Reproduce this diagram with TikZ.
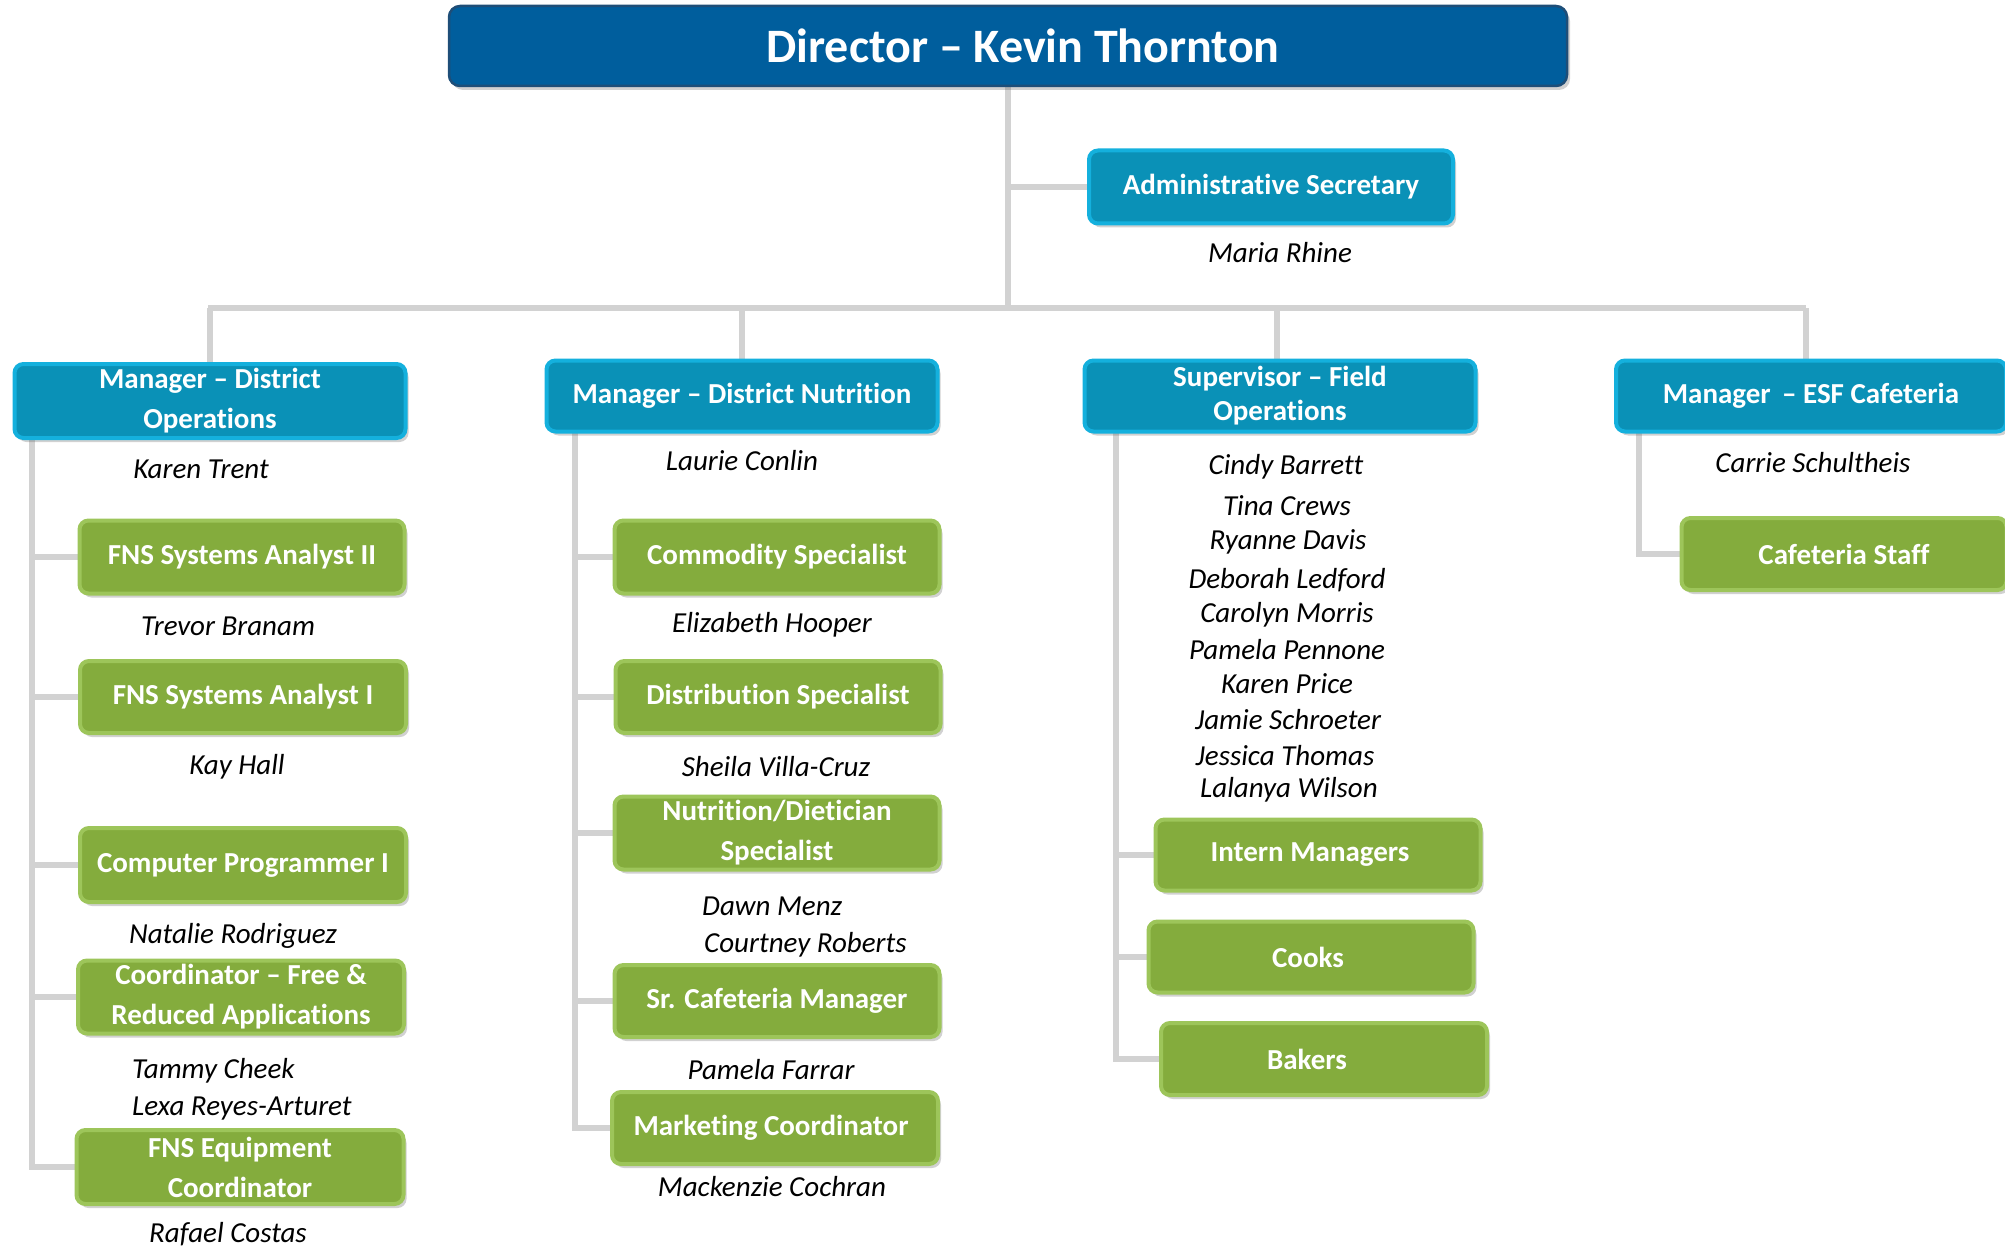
\documentclass[tikz,border=0pt]{standalone}
\usepackage{fontspec}
\setmainfont{Carlito}[Ligatures={TeX,NoCommon}]
\usetikzlibrary{shadows,backgrounds}
\definecolor{dirF}{HTML}{005E9D}
\definecolor{dirB}{HTML}{1E4E78}
\definecolor{mgrF}{HTML}{0A91B7}
\definecolor{mgrB}{HTML}{14B0DD}
\definecolor{grnF}{HTML}{84AC3D}
\definecolor{grnB}{HTML}{9DC55A}
\definecolor{conn}{HTML}{D2D2D2}
\tikzset{
  base/.style={rounded corners=9pt, text=white, align=center, inner sep=0pt,
    font=\bfseries\fontsize{29}{40}\selectfont,
    drop shadow={shadow xshift=3pt, shadow yshift=-4pt, opacity=0.3, fill=black!60}},
  dirbox/.style={base, draw=dirB, fill=dirF, line width=2.5pt, rounded corners=11pt,
    font=\bfseries\fontsize{48}{56}\selectfont},
  mgr/.style={base, draw=mgrB, fill=mgrF, line width=4pt},
  grn/.style={base, draw=grnB, fill=grnF, line width=4pt},
  nm/.style={font=\itshape\fontsize{29}{34}\selectfont, inner sep=0pt},
  cn/.style={draw=conn, line width=6pt},
}
\begin{document}
\begin{tikzpicture}[x=1pt,y=-1pt]
\useasboundingbox (0,0) rectangle (2005,1252);
% director and secretary
\node[dirbox, minimum width=1118, minimum height=80] (dir) at (1008,46) {\hspace*{30pt}Director – Kevin Thornton};
\node[mgr, minimum width=364, minimum height=73] (adm) at (1271,187) {Administrative Secretary};
\node[nm] (admn) at (1280,253) {Maria Rhine};
% managers
\node[mgr, minimum width=391, minimum height=74] (m1) at (210,401) {Manager – District\\Operations};
\node[mgr, minimum width=391, minimum height=71] (m2) at (742,396) {Manager – District Nutrition};
\node[mgr, minimum width=391, minimum height=71, font=\bfseries\fontsize{29}{34}\selectfont] (m3) at (1280,396) {Supervisor – Field\\Operations};
\node[mgr, minimum width=390, minimum height=71] (m4) at (1811,396) {Manager \,– ESF Cafeteria};
% column 1
\node[nm] (n1) at (201,469) {Karen Trent};
\node[grn, minimum width=325, minimum height=73] (g1a) at (242,557) {FNS Systems Analyst II};
\node[nm] (n1a) at (228,626) {Trevor Branam};
\node[grn, minimum width=326, minimum height=72] (g1b) at (243,697) {FNS Systems Analyst I};
\node[nm] (n1b) at (237,767) {Kay Hall};
\node[grn, minimum width=326, minimum height=74] (g1c) at (243,865) {Computer Programmer I};
\node[nm] (n1c) at (233,936) {Natalie Rodriguez};
\node[grn, minimum width=326, minimum height=73] (g1d) at (241,997) {Coordinator – Free \&\\Reduced Applications};
\node[nm, anchor=west] (n1d1) at (132,1071) {Tammy Cheek};
\node[nm, anchor=west] (n1d2) at (132,1109) {Lexa Reyes-Arturet};
\node[grn, minimum width=327, minimum height=74] (g1e) at (240,1167) {FNS Equipment\\Coordinator};
\node[nm] (n1e) at (228,1234) {Rafael Costas};
% column 2
\node[nm] (n2) at (742,461) {Laurie Conlin};
\node[grn, minimum width=325, minimum height=73] (g2a) at (777,557) {Commodity Specialist};
\node[nm] (n2a) at (772,625) {Elizabeth Hooper};
\node[grn, minimum width=325, minimum height=72] (g2b) at (778,697) {Distribution Specialist};
\node[nm] (n2b) at (776,767) {Sheila Villa-Cruz};
\node[grn, minimum width=325, minimum height=73] (g2c) at (777,833) {Nutrition/Dietician\\Specialist};
\node[nm, anchor=west] (n2c1) at (702,906) {Dawn Menz};
\node[nm, anchor=west] (n2c2) at (704,945) {Courtney Roberts};
\node[grn, minimum width=325, minimum height=72] (g2d) at (777,1001) {Sr. Cafeteria Manager};
\node[nm] (n2d) at (771,1070) {Pamela Farrar};
\node[grn, minimum width=326, minimum height=72] (g2e) at (775,1128) {Marketing Coordinator\hspace*{8pt}};
\node[nm] (n2e) at (772,1187) {Mackenzie Cochran};
% column 3
\node[nm] (s1) at (1286,467) {Cindy Barrett};
\node[nm] (s2) at (1287,506) {Tina Crews};
\node[nm] (s3) at (1288,542) {Ryanne Davis};
\node[nm] (s4) at (1287,580) {Deborah Ledford};
\node[nm] (s5) at (1287,615) {Carolyn Morris};
\node[nm] (s6) at (1287,650) {Pamela Pennone};
\node[nm] (s7) at (1287,684) {Karen Price};
\node[nm] (s8) at (1288,720) {Jamie Schroeter};
\node[nm] (s9) at (1285,756) {Jessica Thomas};
\node[nm] (s10) at (1289,790) {Lalanya Wilson};
\node[grn, minimum width=325, minimum height=71] (g3a) at (1318,855) {Intern Managers\hspace*{16pt}};
\node[grn, minimum width=325, minimum height=71] (g3b) at (1311,957) {Cooks\hspace*{6pt}};
\node[grn, minimum width=326, minimum height=72] (g3c) at (1324,1059) {Bakers\hspace*{34pt}};
% column 4
\node[nm] (n4) at (1813,463) {Carrie Schultheis};
\node[grn, minimum width=325, minimum height=72] (g4) at (1844,554) {Cafeteria Staff};
% connectors
\begin{scope}[on background layer]
\coordinate (hL) at (208,308);
\coordinate (hR) at (1806,308);
\draw[cn] (hL) -- (hR);
\draw[cn] (dir.south) -- (dir.south |- hL);
\draw[cn] (dir.south |- adm.west) -- (adm.west);
\draw[cn] (m1.north) -- (m1.north |- hL);
\draw[cn] (m2.north) -- (m2.north |- hL);
\draw[cn] (1277,308) -- (1277,365);
\draw[cn] (hR) -- (1806,365);
% column 1
\coordinate (c1) at (32,430);
\draw[cn] (c1) |- (g1e.west);
\foreach \b in {g1a,g1b,g1c,g1d} \draw[cn] (c1 |- \b.west) -- (\b.west);
% column 2
\coordinate (c2) at (575,425);
\draw[cn] (c2) |- (g2e.west);
\foreach \b in {g2a,g2b,g2c,g2d} \draw[cn] (c2 |- \b.west) -- (\b.west);
% column 3
\coordinate (c3) at (1116,425);
\draw[cn] (c3) |- (g3c.west);
\foreach \b in {g3a,g3b} \draw[cn] (c3 |- \b.west) -- (\b.west);
% column 4
\coordinate (c4) at (1639,425);
\draw[cn] (c4) |- (g4.west);
\end{scope}
\end{tikzpicture}
\end{document}
